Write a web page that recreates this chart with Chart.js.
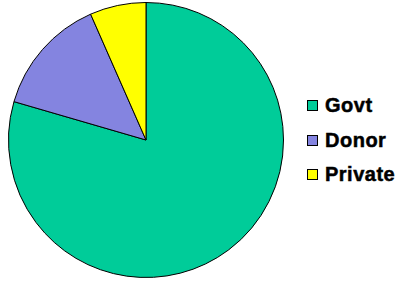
<!DOCTYPE html>
<html>
<head>
<meta charset="utf-8">
<script src="https://cdn.jsdelivr.net/npm/chart.js@4"></script>
<style>
  html, body { margin: 0; padding: 0; background: #fff; }
  #wrap { position: relative; width: 406px; height: 282px; }
  #pieBox { position: absolute; left: 0; top: 0; width: 292px; height: 282px; }
  #legend { position: absolute; left: 307px; top: 93px; font-family: "Liberation Sans", Arial, sans-serif; font-weight: bold; font-size: 20px; letter-spacing: 0.5px; -webkit-text-stroke: 0.5px #000; color: #000; }
  .item { height: 34.5px; line-height: 24px; white-space: nowrap; }
  .sw { display: inline-block; width: 9px; height: 9px; border: 1px solid #000; margin-right: 7px; vertical-align: 1px; -webkit-text-stroke: 0; }
</style>
</head>
<body>
<div id="wrap">
  <div id="pieBox"><canvas id="pie"></canvas></div>
  <div id="legend"></div>
</div>
<script>
// valores (percentual)
const categorias = ['Govt', 'Donor', 'Private'];
const valores = [79.5, 13.9, 6.6];
const cores = ['#00CC99', '#8484E0', '#FFFF00'];

document.addEventListener('DOMContentLoaded', function () {
    const ctx = document.getElementById('pie').getContext('2d');
    new Chart(ctx, {
        type: 'pie',
        data: {
            labels: categorias,
            datasets: [{
                data: valores,
                backgroundColor: cores,
                borderColor: '#000',
                borderWidth: 1
            }]
        },
        options: {
            responsive: true,
            maintainAspectRatio: false,
            animation: false,
            layout: { padding: { top: 2, bottom: 4, left: 0, right: 0 } },
            plugins: {
                legend: { display: false },
                tooltip: { enabled: false }
            }
        }
    });

    // legenda montada a partir dos mesmos arrays
    const leg = document.getElementById('legend');
    categorias.forEach((nome, i) => {
        const div = document.createElement('div');
        div.className = 'item';
        div.innerHTML = '<span class="sw" style="background:' + cores[i] + '"></span>' + nome;
        leg.appendChild(div);
    });
});
</script>
</body>
</html>
